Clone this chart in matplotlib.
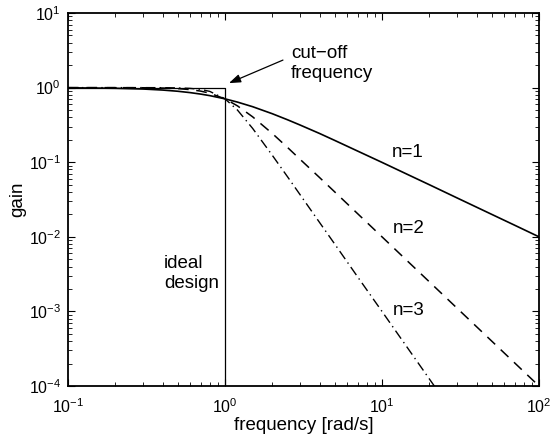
import matplotlib
matplotlib.use('Agg')
import matplotlib.pyplot as plt
from matplotlib.ticker import LogLocator, NullFormatter

plt.rcParams['font.family'] = ['Liberation Sans', 'DejaVu Sans']
plt.rcParams['mathtext.fontset'] = 'custom'
plt.rcParams['mathtext.rm'] = 'Liberation Sans'
plt.rcParams['mathtext.it'] = 'Liberation Sans'

# gain at these frequencies [rad/s]
freq = [0.1, 0.2, 0.3, 0.4, 0.5, 0.6, 0.7, 0.8, 1.0, 1.2, 1.5, 2.0, 2.5, 3.0,
        4.0, 5.0, 7.0, 10.0, 15.0, 20.0, 30.0, 50.0, 70.0, 100.0]
gain_n1 = [0.995, 0.98, 0.958, 0.928, 0.894, 0.857, 0.819, 0.781, 0.707, 0.64,
           0.555, 0.447, 0.371, 0.316, 0.243, 0.196, 0.141, 0.0995, 0.0665,
           0.05, 0.0333, 0.02, 0.0143, 0.01]
gain_n2 = [1.0, 0.999, 0.996, 0.987, 0.97, 0.941, 0.898, 0.842, 0.707, 0.57,
           0.406, 0.243, 0.158, 0.11, 0.0624, 0.04, 0.0204, 0.01, 0.00444,
           0.0025, 0.00111, 0.0004, 0.000204, 0.0001]
gain_n3 = [1.0, 1.0, 1.0, 0.998, 0.992, 0.976, 0.947, 0.89, 0.707, 0.501,
           0.284, 0.124, 0.064, 0.037, 0.0156, 0.008, 0.0029, 0.001, 0.000296,
           0.000125, 0.000037, 0.000008, 0.000003, 0.000001]

# ideal filter: flat to the cut-off, then straight down
ideal_freq = [0.1, 1.0, 1.0]
ideal_gain = [1.0, 1.0, 1e-4]

fig = plt.figure(figsize=(5.51, 4.40), dpi=100)
ax = fig.add_axes([0.1234, 0.1227, 0.8548, 0.8477])

ax.plot(ideal_freq, ideal_gain, color='black', lw=0.9)
ax.plot(freq, gain_n1, color='black', lw=1.2, ls='-')
ax.plot(freq, gain_n2, color='black', lw=1.1, ls=(0, (7, 5)))
ax.plot(freq, gain_n3, color='black', lw=1.0, ls=(0, (7, 3, 1, 3)))

ax.set_xscale('log')
ax.set_yscale('log')
ax.set_xlim(0.1, 100)
ax.set_ylim(1e-4, 10)

ax.set_xticks([0.1, 1, 10, 100])
ax.set_xticklabels([r'$10^{-1}$', r'$10^{0}$', r'$10^{1}$', r'$10^{2}$'])
ax.set_yticks([1e-4, 1e-3, 1e-2, 1e-1, 1, 10])
ax.set_yticklabels([r'$10^{-4}$', r'$10^{-3}$', r'$10^{-2}$',
                    r'$10^{-1}$', r'$10^{0}$', r'$10^{1}$'])
ax.xaxis.set_minor_locator(LogLocator(base=10, subs=range(2, 10), numticks=20))
ax.yaxis.set_minor_locator(LogLocator(base=10, subs=range(2, 10), numticks=20))
ax.xaxis.set_minor_formatter(NullFormatter())
ax.yaxis.set_minor_formatter(NullFormatter())
ax.tick_params(which='both', direction='in', top=True, right=True, labelsize=11.5)
ax.tick_params(which='major', length=5, width=0.8)
ax.tick_params(which='minor', length=3, width=0.6)
ax.tick_params(axis='x', which='major', pad=8)
ax.tick_params(axis='y', which='major', pad=5)
for s in ax.spines.values():
    s.set_linewidth(1.3)

ax.set_xlabel('frequency [rad/s]', fontsize=13.5, labelpad=1)
ax.set_ylabel('gain', fontsize=13.5, labelpad=2)

ax.text(11.6, 0.133, 'n=1', fontsize=13.5, va='center', ha='left')
ax.text(11.7, 0.0131, 'n=2', fontsize=13.5, va='center', ha='left')
ax.text(11.7, 1.04e-3, 'n=3', fontsize=13.5, va='center', ha='left')
ax.text(0.408, 3.2e-3, 'ideal\ndesign', fontsize=13.5, va='center', ha='left',
        linespacing=1.25)
ax.text(2.63, 2.1, 'cut\u2212off\nfrequency', fontsize=13.5, va='center', ha='left',
        linespacing=1.25)
ax.annotate('', xy=(1.06, 1.15), xytext=(2.34, 2.34),
            arrowprops=dict(arrowstyle='-|>,head_length=0.7,head_width=0.25',
                            color='black', lw=0.9, shrinkA=0, shrinkB=0))

fig.savefig('out.png', dpi=100)
